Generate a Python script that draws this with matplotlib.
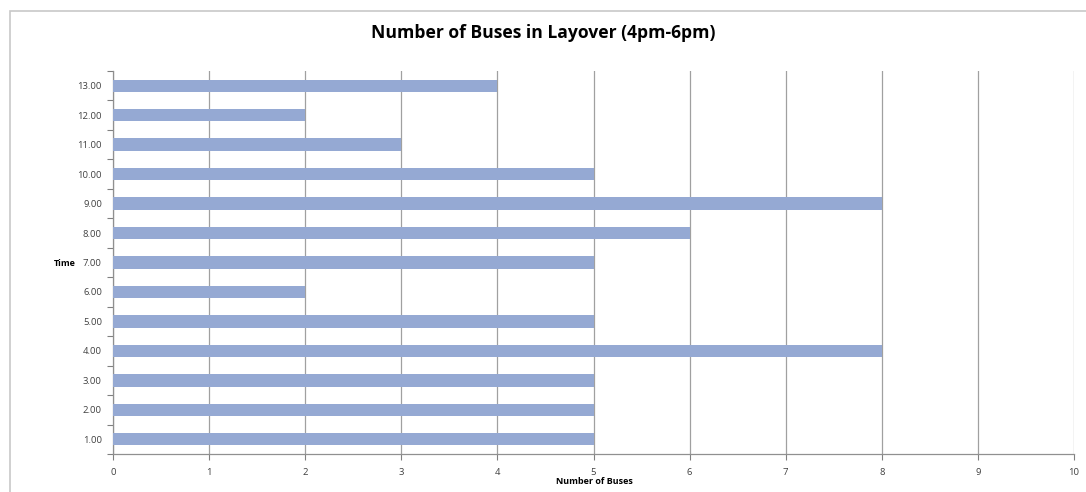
import matplotlib
matplotlib.use("Agg")
import matplotlib.pyplot as plt
from matplotlib.patches import Rectangle

time_labels = ["1.00", "2.00", "3.00", "4.00", "5.00", "6.00", "7.00",
               "8.00", "9.00", "10.00", "11.00", "12.00", "13.00"]
buses = [5, 5, 5, 8, 5, 2, 5, 6, 8, 5, 3, 2, 4]
x_ticks = list(range(0, 11))

plt.rcParams['font.family'] = ['Open Sans', 'DejaVu Sans']

fig = plt.figure(figsize=(10.86, 4.92), dpi=100)
fig.patches.append(Rectangle((10 / 1086, -0.01), 1.02, 1 - 11 / 492 + 0.01,
                             transform=fig.transFigure, fill=False,
                             edgecolor="#c8c8c8", linewidth=1.2))

ax = fig.add_axes([113 / 1086, 1 - 454 / 492, (1074 - 113) / 1086, (454 - 71) / 492])
pos = list(range(len(time_labels)))
ax.barh(pos, buses, height=0.42, color="#95a9d3", zorder=3)

ax.set_xlim(0, 10)
ax.set_ylim(-0.5, len(time_labels) - 0.5)
ax.set_xticks(x_ticks)
ax.set_xticklabels([str(t) for t in x_ticks], fontsize=6.8, color="#404040")
ax.set_yticks(pos)
ax.set_yticklabels(time_labels, fontsize=6.8, color="#404040")
ax.set_yticks([p - 0.5 for p in pos] + [len(pos) - 0.5], minor=True)
ax.tick_params(axis="y", which="major", length=0, pad=8)
ax.tick_params(axis="y", which="minor", length=4, color="#808080", width=0.8)
ax.tick_params(axis="x", length=4, color="#808080", width=0.8, pad=6)

ax.grid(axis="x", color="#a0a0a0", linewidth=0.9, zorder=0)
for side in ["top", "right"]:
    ax.spines[side].set_visible(False)
for side in ["left", "bottom"]:
    ax.spines[side].set_color("#909090")
    ax.spines[side].set_linewidth(0.9)

fig.text(0.5, 1 - 33 / 492, "Number of Buses in Layover (4pm-6pm)",
         ha="center", va="center", fontsize=12.6, fontweight="bold", color="#000000")
fig.text(65 / 1086, 1 - 264 / 492, "Time", ha="center", va="center",
         fontsize=6.5, fontweight="bold")
fig.text(594 / 1086, 1 - 481 / 492, "Number of Buses", ha="center", va="center",
         fontsize=6.5, fontweight="bold")

fig.savefig("out.png", dpi=100)
